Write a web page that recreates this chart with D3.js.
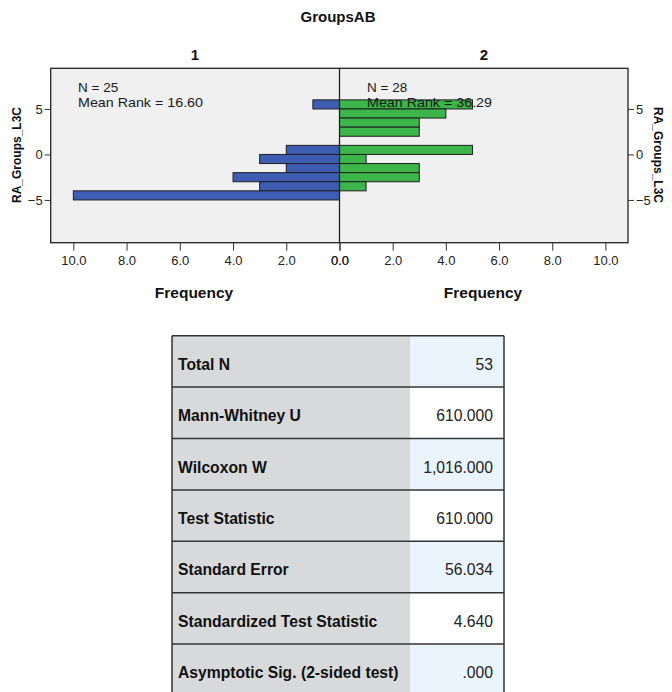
<!DOCTYPE html>
<html>
<head>
<meta charset="utf-8">
<script src="https://cdn.jsdelivr.net/npm/d3@7"></script>
<style>
  html, body { margin: 0; padding: 0; background: #ffffff; }
  svg { display: block; font-family: "Liberation Sans", Arial, sans-serif; }
</style>
</head>
<body>
<svg id="chart" width="672" height="692"></svg>
<script>
// Lower edges of the rank-difference bins (each bin is one unit tall)
const binStarts = [5, 4, 3, 2, 1, 0, -1, -2, -3, -4, -5];
const binWidth = 1;
// Frequencies per bin for each group
const group1Counts = [1, 0, 0, 0, 0, 2, 3, 2, 4, 3, 10];
const group2Counts = [5, 4, 3, 3, 0, 5, 1, 3, 3, 1, 0];
const groupNames = ["1", "2"];
const groupN = [25, 28];
const groupMeanRank = ["16.60", "36.29"];
const freqTicks = [0, 2, 4, 6, 8, 10];
const rankTicks = [-5, 0, 5];

// Summary statistics table
const statLabels = ["Total N", "Mann-Whitney U", "Wilcoxon W", "Test Statistic",
  "Standard Error", "Standardized Test Statistic", "Asymptotic Sig. (2-sided test)"];
const statValues = ["53", "610.000", "1,016.000", "610.000", "56.034", "4.640", ".000"];

const svg = d3.select("#chart");

const panelTop = 68.3, panelBottom = 242.7;
const panelLeft = 50.7, panelMid = 339.5, panelRight = 628;

const y = d3.scaleLinear().domain([-9.7, 9.47]).range([panelBottom, panelTop]);
const xLeft = d3.scaleLinear().domain([0, 10.85]).range([panelMid, panelLeft]);
const xRight = d3.scaleLinear().domain([0, 10.85]).range([panelMid, panelRight]);

// Title and panel headings
svg.append("text").attr("x", 338).attr("y", 22).attr("text-anchor", "middle")
  .attr("font-size", 15).attr("font-weight", "bold").attr("fill", "#111").text("GroupsAB");
svg.append("text").attr("x", 195).attr("y", 60).attr("text-anchor", "middle")
  .attr("font-size", 15).attr("font-weight", "bold").attr("fill", "#111").text(groupNames[0]);
svg.append("text").attr("x", 484).attr("y", 60).attr("text-anchor", "middle")
  .attr("font-size", 15).attr("font-weight", "bold").attr("fill", "#111").text(groupNames[1]);

// Panel background
svg.append("rect").attr("x", panelLeft).attr("y", panelTop)
  .attr("width", panelRight - panelLeft).attr("height", panelBottom - panelTop)
  .attr("fill", "#f0f0f0");

const bins = binStarts.map((b, i) => ({ start: b, c1: group1Counts[i], c2: group2Counts[i] }));

// Group 1 bars grow leftwards
svg.append("g").selectAll("rect").data(bins.filter(d => d.c1 > 0)).join("rect")
  .attr("x", d => xLeft(d.c1))
  .attr("y", d => y(d.start + binWidth))
  .attr("width", d => xLeft(0) - xLeft(d.c1))
  .attr("height", d => y(d.start) - y(d.start + binWidth))
  .attr("fill", "#3f5cb3").attr("stroke", "#1f1f1f").attr("stroke-width", 1);

// Group 2 bars grow rightwards
svg.append("g").selectAll("rect").data(bins.filter(d => d.c2 > 0)).join("rect")
  .attr("x", xRight(0))
  .attr("y", d => y(d.start + binWidth))
  .attr("width", d => xRight(d.c2) - xRight(0))
  .attr("height", d => y(d.start) - y(d.start + binWidth))
  .attr("fill", "#3cb54a").attr("stroke", "#1f1f1f").attr("stroke-width", 1);

// Panel frame and centre divider
svg.append("rect").attr("x", panelLeft).attr("y", panelTop)
  .attr("width", panelRight - panelLeft).attr("height", panelBottom - panelTop)
  .attr("fill", "none").attr("stroke", "#222").attr("stroke-width", 1.3);
svg.append("line").attr("x1", panelMid).attr("x2", panelMid)
  .attr("y1", panelTop).attr("y2", panelBottom)
  .attr("stroke", "#222").attr("stroke-width", 1.3);

// Group annotations
[[78, 0], [367, 1]].forEach(([tx, i]) => {
  svg.append("text").attr("x", tx).attr("y", 92).attr("font-size", 13.5).attr("fill", "#1a1a1a")
    .text("N = " + groupN[i]);
  svg.append("text").attr("x", tx).attr("y", 107).attr("font-size", 13.5).attr("fill", "#1a1a1a")
    .attr("textLength", 125).attr("lengthAdjust", "spacingAndGlyphs")
    .text("Mean Rank = " + groupMeanRank[i]);
});

function styleAxis(g) {
  g.select(".domain").remove();
  g.selectAll(".tick line").attr("stroke", "#333");
  g.selectAll(".tick text").attr("fill", "#222").attr("font-size", 13)
    .attr("font-family", "Liberation Sans, Arial, sans-serif");
}

// Frequency axes
const fmt = d3.format(".1f");
svg.append("g").attr("transform", `translate(0,${panelBottom})`)
  .call(d3.axisBottom(xLeft).tickValues(freqTicks).tickFormat(fmt).tickSize(8).tickPadding(5))
  .call(styleAxis);
svg.append("g").attr("transform", `translate(0,${panelBottom})`)
  .call(d3.axisBottom(xRight).tickValues(freqTicks).tickFormat(fmt).tickSize(8).tickPadding(5))
  .call(styleAxis);

// Rank axes on both sides
svg.append("g").attr("transform", `translate(${panelLeft},0)`)
  .call(d3.axisLeft(y).tickValues(rankTicks).tickSize(6).tickPadding(2))
  .call(styleAxis);
svg.append("g").attr("transform", `translate(${panelRight},0)`)
  .call(d3.axisRight(y).tickValues(rankTicks).tickSize(6).tickPadding(2))
  .call(styleAxis);

// Axis titles
svg.append("text").attr("x", 194).attr("y", 298).attr("text-anchor", "middle")
  .attr("font-size", 15.5).attr("font-weight", "bold").attr("fill", "#111").text("Frequency");
svg.append("text").attr("x", 483).attr("y", 298).attr("text-anchor", "middle")
  .attr("font-size", 15.5).attr("font-weight", "bold").attr("fill", "#111").text("Frequency");
svg.append("text").attr("transform", "translate(21,155) rotate(-90)").attr("text-anchor", "middle")
  .attr("font-size", 12).attr("font-weight", "bold").attr("fill", "#111").text("RA_Groups_L3C");
svg.append("text").attr("transform", "translate(654,155) rotate(90)").attr("text-anchor", "middle")
  .attr("font-size", 12).attr("font-weight", "bold").attr("fill", "#111").text("RA_Groups_L3C");

// Statistics table
const tLeft = 172, tSplit = 410, tRight = 504, tTop = 335.7, rowH = 51.4;
const rowY = d3.scaleLinear().domain([0, 1]).range([tTop, tTop + rowH]);
const rows = svg.append("g").selectAll("g").data(statLabels).join("g")
  .attr("transform", (d, i) => `translate(0,${rowY(i)})`);
rows.append("rect").attr("x", tLeft).attr("y", 0).attr("width", tSplit - tLeft).attr("height", rowH)
  .attr("fill", "#d8d9db");
rows.append("rect").attr("x", tSplit).attr("y", 0).attr("width", tRight - tSplit).attr("height", rowH)
  .attr("fill", (d, i) => i % 2 === 0 ? "#eaf4fd" : "#ffffff");
rows.append("text").attr("x", tLeft + 6).attr("y", rowH / 2 + 8.5)
  .attr("font-size", 15.7).attr("font-weight", "bold").attr("fill", "#111").text(d => d);
rows.append("text").attr("x", tRight - 11).attr("y", rowH / 2 + 8.5).attr("text-anchor", "end")
  .attr("font-size", 15.7).attr("fill", "#222").text((d, i) => statValues[i]);
rows.append("line").attr("x1", tLeft).attr("x2", tRight).attr("y1", 0).attr("y2", 0)
  .attr("stroke", "#333").attr("stroke-width", 1.5);
svg.append("line").attr("x1", tLeft).attr("x2", tLeft).attr("y1", tTop).attr("y2", tTop + rowH * statLabels.length)
  .attr("stroke", "#333").attr("stroke-width", 1.5);
svg.append("line").attr("x1", tRight).attr("x2", tRight).attr("y1", tTop).attr("y2", tTop + rowH * statLabels.length)
  .attr("stroke", "#333").attr("stroke-width", 1.5);
</script>
</body>
</html>
